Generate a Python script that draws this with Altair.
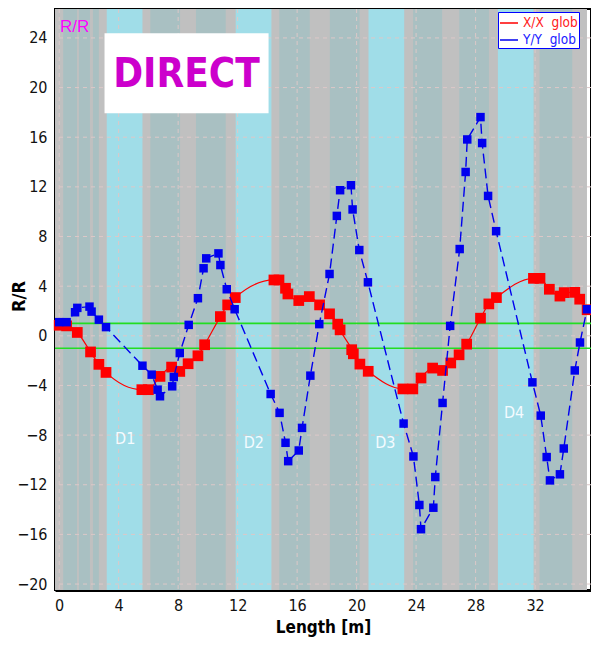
import altair as alt
import pandas as pd

NARROW = "Liberation Sans Narrow, Arial Narrow, DejaVu Sans Condensed, Liberation Sans, sans-serif"

# ---- axes ----
X_TICKS = [0, 4, 8, 12, 16, 20, 24, 28, 32]
Y_TICKS = [-20, -16, -12, -8, -4, 0, 4, 8, 12, 16, 20, 24]
X_DOMAIN = [-0.28, 35.76]
Y_DOMAIN = [-20.48, 26.33]

# ---- background zones (length in m) ----
GRAY_START = [-0.28]
GRAY_END = [35.49]
TEAL_START = [0.27, 1.33, 2.27, 6.13, 9.20, 14.80, 18.20, 23.80, 26.90, 32.30]
TEAL_END = [1.20, 2.07, 2.67, 8.13, 11.20, 16.85, 20.20, 25.75, 28.90, 34.50]
CYAN_START = [3.20, 11.87, 20.80, 29.50]
CYAN_END = [5.60, 14.27, 23.20, 31.90]
ZONE_LABELS = ["D1", "D2", "D3", "D4"]
ZONE_X = [4.44, 13.09, 21.93, 30.59]
ZONE_Y = [-8.3, -8.6, -8.6, -6.2]
GREEN_LEVELS = [1, -1]

# ---- series ----
SERIES = ["X/X\u00a0\u00a0glob", "Y/Y\u00a0\u00a0glob"]
XX_LEN = [0.0, 0.5, 1.22, 2.11, 2.67, 3.15, 5.56, 6.0, 6.78, 7.56, 8.11, 8.67, 9.33, 9.78,
          10.84, 11.33, 11.84, 14.44, 14.78, 15.22, 15.38, 16.11, 16.82, 17.51, 18.18,
          18.73, 18.89, 19.67, 19.78, 20.22, 20.78, 23.11, 23.78, 24.33, 25.11, 25.78,
          26.33, 26.89, 27.4, 28.33, 28.89, 29.4, 31.89, 32.33, 32.96, 33.67, 33.96,
          34.67, 35.0, 35.5]
XX_VAL = [0.85, 0.8, 0.27, -1.3, -2.3, -2.95, -4.34, -4.34, -3.27, -2.52, -2.87, -2.25,
          -1.61, -0.72, 1.55, 2.49, 3.08, 4.5, 4.5, 3.83, 3.37, 2.84, 3.16, 2.49, 1.77,
          0.94, 0.48, -1.12, -1.45, -2.28, -2.86, -4.28, -4.28, -3.4, -2.6, -2.79, -2.19,
          -1.53, -0.67, 1.42, 2.57, 3.08, 4.63, 4.63, 3.75, 3.2, 3.48, 3.5, 2.95, 2.1]
YY_LEN = [0.0, 0.5, 1.07, 1.22, 2.04, 2.18, 2.67, 3.15, 5.6, 6.22, 6.62, 6.78, 7.6, 7.71,
          8.11, 8.71, 9.33, 9.71, 9.89, 10.71, 10.84, 11.27, 11.8, 14.22, 14.82, 15.22,
          15.4, 16.11, 16.33, 16.89, 17.49, 18.18, 18.67, 18.89, 19.62, 19.73, 20.18,
          20.76, 23.16, 23.82, 24.22, 24.33, 25.16, 25.29, 25.78, 26.29, 26.93, 27.33,
          27.44, 28.33, 28.44, 28.84, 29.38, 31.82, 32.38, 32.78, 33.0, 33.67, 33.93,
          34.67, 35.02, 35.49]
YY_VAL = [1.1, 1.1, 1.9, 2.25, 2.35, 1.95, 1.3, 0.7, -2.41, -3.13, -4.34, -4.87, -4.07,
          -3.32, -1.39, 0.88, 3.03, 5.44, 6.24, 6.64, 5.7, 3.75, 2.14, -4.69, -6.21, -8.62,
          -10.1, -9.24, -7.42, -3.21, 0.94, 4.98, 9.66, 11.73, 12.13, 10.18, 6.91, 4.31,
          -7.07, -9.72, -13.63, -15.58, -13.85, -11.38, -5.41, 0.8, 6.99, 13.2, 15.82,
          17.62, 15.53, 11.27, 8.43, -3.75, -6.43, -9.77, -11.65, -11.16, -9.08, -2.79,
          -0.54, 2.14]

# annotation anchors (data units)
RR_TAG = {"x": [0.05], "y": [24.9], "t": ["R/R"]}
DIRECT_BOX = {"x": [3.05], "x2": [14.08], "y": [24.38], "y2": [17.94]}
DIRECT_TEXT = {"x": [8.56], "y": [21.0], "t": ["DIRECT"]}

RED = "#ff0000"
BLUE = "#0000ee"

xs = alt.Scale(domain=X_DOMAIN, nice=False, zero=False)
ys = alt.Scale(domain=Y_DOMAIN, nice=False, zero=False)

x_axis = alt.Axis(values=X_TICKS, grid=False, ticks=False, domainWidth=3, domainColor="black",
                  labelFontSize=16, labelPadding=7, labelFlush=False, labelOverlap=False,
                  title="Length [m]", titleFontSize=17, titleFontWeight="bold", titlePadding=6)
y_axis = alt.Axis(values=Y_TICKS, grid=False, ticks=False, domainWidth=3, domainColor="black",
                  labelFontSize=16, labelPadding=8, labelFlush=False, labelOverlap=False,
                  title="R/R", titleFontSize=18, titleFontWeight="bold", titleX=-36,
                  titleY=287, titleAlign="center", titleBaseline="middle")


def X(field):
    return alt.X(field, scale=xs, axis=x_axis)


def Y(field):
    return alt.Y(field, scale=ys, axis=y_axis)


gray = alt.Chart(pd.DataFrame({"a": GRAY_START, "b": GRAY_END})).mark_rect(color="#c0c0c0").encode(
    x=X("a:Q"), x2="b:Q")

teal = alt.Chart(pd.DataFrame({"a": TEAL_START, "b": TEAL_END})).mark_rect(color="#a9c0c2").encode(
    x=X("a:Q"), x2="b:Q")

cyan = alt.Chart(pd.DataFrame({"a": CYAN_START, "b": CYAN_END})).mark_rect(color="#a0dde8").encode(
    x=X("a:Q"), x2="b:Q")

vgrid = alt.Chart(pd.DataFrame({"v": X_TICKS})).mark_rule(color="#dcc8c8", strokeDash=[4, 4], strokeWidth=1).encode(
    x=X("v:Q"))
hgrid = alt.Chart(pd.DataFrame({"v": Y_TICKS})).mark_rule(color="#dcc8c8", strokeDash=[4, 4], strokeWidth=1).encode(
    y=Y("v:Q"))

green = alt.Chart(pd.DataFrame({"v": GREEN_LEVELS})).mark_rule(color="#22dd22", strokeWidth=1.6).encode(
    y=Y("v:Q"))

zones = alt.Chart(pd.DataFrame({"x": ZONE_X, "y": ZONE_Y, "t": ZONE_LABELS})).mark_text(
    color="#f4fbff", fontSize=16, font=NARROW, baseline="middle").encode(
    x=X("x:Q"), y=Y("y:Q"), text="t:N")

dbox = alt.Chart(pd.DataFrame(DIRECT_BOX)).mark_rect(color="white").encode(
    x=X("x:Q"), x2="x2:Q", y=Y("y:Q"), y2="y2:Q")
dtext = alt.Chart(pd.DataFrame(DIRECT_TEXT)).mark_text(
    color="#cc00cc", fontSize=40, fontWeight="bold", font=NARROW, baseline="middle").encode(
    x=X("x:Q"), y=Y("y:Q"), text="t:N")
rrtag = alt.Chart(pd.DataFrame(RR_TAG)).mark_text(
    color="#ff00ff", fontSize=17, font="Liberation Sans, sans-serif", align="left", baseline="middle").encode(
    x=X("x:Q"), y=Y("y:Q"), text="t:N")

df_x = pd.DataFrame({"x": XX_LEN, "y": XX_VAL, "s": SERIES[0]})
df_y = pd.DataFrame({"x": YY_LEN, "y": YY_VAL, "s": SERIES[1]})

color_scale = alt.Scale(domain=SERIES, range=[RED, BLUE])
legend = alt.Legend(orient="none", legendX=443, legendY=3, title=None, fillColor="white",
                    strokeColor="#0000ff", padding=1, rowPadding=0, symbolType="stroke",
                    symbolStrokeWidth=1.5, symbolSize=324, symbolDash=[1, 0],
                    labelFontSize=13.5, labelFont=NARROW, labelOffset=4,
                    labelExpr="datum.label + '\u00a0\u00a0\u00a0\u00a0\u00a0\u00a0\u00a0\u00a0\u00a0\u00a0\u00a0\u00a0'",
                    labelColor={"expr": "indexof(datum.label, 'X/X') >= 0 ? '#ff2020' : '#2020ff'"})

line_x = alt.Chart(df_x).mark_line(strokeWidth=1.2, interpolate="monotone").encode(
    x=X("x:Q"), y=Y("y:Q"), color=alt.Color("s:N", scale=color_scale, legend=legend))
line_y = alt.Chart(df_y).mark_line(strokeWidth=1.4, strokeDash=[10, 5]).encode(
    x=X("x:Q"), y=Y("y:Q"), color=alt.Color("s:N", scale=color_scale, legend=legend))
pts_x = alt.Chart(df_x).mark_square(color=RED, size=115, opacity=1).encode(
    x=X("x:Q"), y=Y("y:Q"))
pts_y = alt.Chart(df_y).mark_square(color=BLUE, size=72, opacity=1).encode(
    x=X("x:Q"), y=Y("y:Q"))

chart = alt.layer(gray, teal, cyan, vgrid, hgrid, green, zones, dbox, dtext, rrtag,
                  line_x, pts_x, line_y, pts_y).properties(
    width=536, height=581,
    padding={"left": 47, "top": 1, "right": 0, "bottom": 47},
    autosize=alt.AutoSizeParams(type="none"),
).configure_view(stroke="black", strokeWidth=2).configure_axis(
    labelFont=NARROW, titleFont=NARROW, labelColor="#111111", titleColor="#000000")

chart.save("out.html", embed_options={"renderer": "svg", "actions": False})
